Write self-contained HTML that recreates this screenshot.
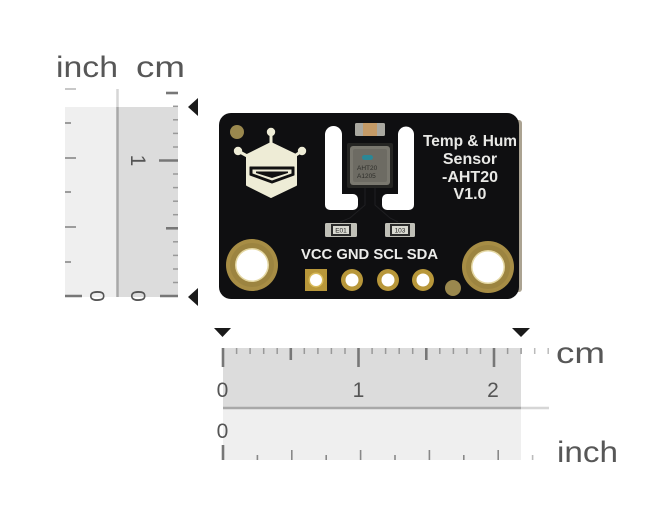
<!DOCTYPE html>
<html><head><meta charset="utf-8">
<style>
html,body{margin:0;padding:0;background:#fff;}
svg{display:block;}
text{font-family:"Liberation Sans",sans-serif;}
</style></head>
<body>
<svg width="653" height="511" viewBox="0 0 653 511" xmlns="http://www.w3.org/2000/svg">
<rect width="653" height="511" fill="#fff"/>

<!-- ===== Left vertical ruler ===== -->
<text x="56" y="77" font-size="30" fill="#575757" textLength="62" lengthAdjust="spacingAndGlyphs">inch</text>
<text x="136" y="77" font-size="30" fill="#575757" textLength="49" lengthAdjust="spacingAndGlyphs">cm</text>
<rect x="65" y="107" width="52" height="190" fill="#efefef"/>
<rect x="118" y="107" width="60" height="190" fill="#dcdcdc"/>
<line x1="117.5" y1="89" x2="117.5" y2="107" stroke="#d6d6d6" stroke-width="2.5"/>
<line x1="117.5" y1="107" x2="117.5" y2="297" stroke="#a8a8a8" stroke-width="2.5"/>
<g stroke="#888" stroke-width="1.6">
<line x1="65" y1="262" x2="71" y2="262"/>
<line x1="65" y1="227" x2="76" y2="227"/>
<line x1="65" y1="192" x2="71" y2="192"/>
<line x1="65" y1="158" x2="76" y2="158"/>
<line x1="65" y1="123" x2="71" y2="123"/>
<line x1="65" y1="89" x2="76" y2="89" stroke="#bbb"/>
</g>
<line x1="65" y1="296" x2="82" y2="296" stroke="#777" stroke-width="2.6"/>
<g stroke="#999" stroke-width="1.5">
<line x1="173" y1="282.5" x2="178" y2="282.5"/>
<line x1="173" y1="269" x2="178" y2="269"/>
<line x1="173" y1="255.4" x2="178" y2="255.4"/>
<line x1="173" y1="241.8" x2="178" y2="241.8"/>
<line x1="173" y1="214.7" x2="178" y2="214.7"/>
<line x1="173" y1="201.2" x2="178" y2="201.2"/>
<line x1="173" y1="187.6" x2="178" y2="187.6"/>
<line x1="173" y1="174" x2="178" y2="174"/>
<line x1="173" y1="147" x2="178" y2="147"/>
<line x1="173" y1="133.4" x2="178" y2="133.4"/>
<line x1="173" y1="119.8" x2="178" y2="119.8"/>
<line x1="173" y1="106.3" x2="178" y2="106.3"/>
</g>
<g stroke="#777" stroke-width="2.6">
<line x1="160" y1="296" x2="178" y2="296"/>
<line x1="166" y1="228.3" x2="178" y2="228.3"/>
<line x1="159" y1="160.5" x2="178" y2="160.5"/>
<line x1="166" y1="93" x2="178" y2="93"/>
</g>
<text transform="translate(97,296) rotate(90)" text-anchor="middle" dy="7" font-size="21" fill="#555">0</text>
<text transform="translate(138,296) rotate(90)" text-anchor="middle" dy="7" font-size="21" fill="#555">0</text>
<text transform="translate(138,160.5) rotate(90)" text-anchor="middle" dy="7" font-size="21" fill="#555">1</text>
<polygon points="188,107 198,98 198,116" fill="#1a1a1a"/>
<polygon points="188,297 198,288 198,306" fill="#1a1a1a"/>

<!-- ===== Bottom horizontal ruler ===== -->
<polygon points="214,328 231,328 222.5,337" fill="#1a1a1a"/>
<polygon points="512,328 530,328 521,337" fill="#1a1a1a"/>
<rect x="223" y="348" width="298" height="60" fill="#dcdcdc"/>
<rect x="223" y="408" width="298" height="52" fill="#efefef"/>
<line x1="223" y1="408" x2="521" y2="408" stroke="#a8a8a8" stroke-width="2.5"/>
<line x1="521" y1="408" x2="549" y2="408" stroke="#d6d6d6" stroke-width="2.5"/>
<g stroke="#999" stroke-width="1.5">
<line x1="236.6" y1="348" x2="236.6" y2="354"/>
<line x1="250.1" y1="348" x2="250.1" y2="354"/>
<line x1="263.7" y1="348" x2="263.7" y2="354"/>
<line x1="277.2" y1="348" x2="277.2" y2="354"/>
<line x1="304.3" y1="348" x2="304.3" y2="354"/>
<line x1="317.9" y1="348" x2="317.9" y2="354"/>
<line x1="331.4" y1="348" x2="331.4" y2="354"/>
<line x1="345" y1="348" x2="345" y2="354"/>
<line x1="372.1" y1="348" x2="372.1" y2="354"/>
<line x1="385.6" y1="348" x2="385.6" y2="354"/>
<line x1="399.2" y1="348" x2="399.2" y2="354"/>
<line x1="412.7" y1="348" x2="412.7" y2="354"/>
<line x1="439.8" y1="348" x2="439.8" y2="354"/>
<line x1="453.4" y1="348" x2="453.4" y2="354"/>
<line x1="466.9" y1="348" x2="466.9" y2="354"/>
<line x1="480.5" y1="348" x2="480.5" y2="354"/>
<line x1="507.6" y1="348" x2="507.6" y2="354"/>
<line x1="521.1" y1="348" x2="521.1" y2="354"/>
<line x1="534.7" y1="348" x2="534.7" y2="354" stroke="#bbb"/>
<line x1="548.2" y1="348" x2="548.2" y2="354" stroke="#bbb"/>
</g>
<g stroke="#777" stroke-width="2.6">
<line x1="223" y1="348" x2="223" y2="367"/>
<line x1="290.8" y1="348" x2="290.8" y2="360"/>
<line x1="358.5" y1="348" x2="358.5" y2="367"/>
<line x1="426.3" y1="348" x2="426.3" y2="360"/>
<line x1="494" y1="348" x2="494" y2="367"/>
</g>
<text x="222.5" y="397" text-anchor="middle" font-size="21" fill="#555">0</text>
<text x="358.5" y="397" text-anchor="middle" font-size="21" fill="#555">1</text>
<text x="493" y="397" text-anchor="middle" font-size="21" fill="#555">2</text>
<text x="222.5" y="438" text-anchor="middle" font-size="21" fill="#555">0</text>
<g stroke="#888" stroke-width="1.6">
<line x1="257.4" y1="455" x2="257.4" y2="460"/>
<line x1="291.8" y1="450" x2="291.8" y2="460"/>
<line x1="326.2" y1="455" x2="326.2" y2="460"/>
<line x1="360.6" y1="450" x2="360.6" y2="460"/>
<line x1="395" y1="455" x2="395" y2="460"/>
<line x1="429.4" y1="450" x2="429.4" y2="460"/>
<line x1="463.8" y1="455" x2="463.8" y2="460"/>
<line x1="498.2" y1="450" x2="498.2" y2="460"/>
<line x1="532.6" y1="455" x2="532.6" y2="460" stroke="#bbb"/>
</g>
<line x1="223" y1="445" x2="223" y2="460" stroke="#777" stroke-width="2.6"/>
<text x="556" y="363" font-size="30" fill="#575757" textLength="49" lengthAdjust="spacingAndGlyphs">cm</text>
<text x="557" y="462" font-size="30" fill="#575757" textLength="61" lengthAdjust="spacingAndGlyphs">inch</text>

<!-- ===== PCB ===== -->
<rect x="514" y="120" width="8" height="172" rx="3" fill="#aba392"/>
<rect x="219" y="113" width="300" height="186" rx="12" fill="#0f0f11"/>

<circle cx="237" cy="132" r="7" fill="#9a884e"/>

<!-- logo -->
<g fill="#eeecd6">
<polygon points="271,143 296,155 296,185 271,197 247,185 247,155" stroke="#eeecd6" stroke-width="2" stroke-linejoin="round"/>
<rect x="269.5" y="133" width="3" height="12"/>
<circle cx="271" cy="132" r="4.2"/>
<line x1="238" y1="151" x2="249" y2="157" stroke="#eeecd6" stroke-width="3"/>
<circle cx="238" cy="151" r="4.2"/>
<line x1="302" y1="151" x2="293" y2="157" stroke="#eeecd6" stroke-width="3"/>
<circle cx="302" cy="151" r="4.2"/>
</g>
<polygon points="250,167 294,167 294,175 272,183 250,175" fill="#111" stroke="#111" stroke-width="1" stroke-linejoin="round"/>
<polygon points="252.5,169.5 291.5,169.5 291.5,173.5 272,180.5 252.5,173.5" fill="#eeecd6"/>
<polygon points="256,171.5 288,171.5 288,173 272,178 256,173" fill="#111"/>

<!-- slots -->
<path d="M325,134.5 A8.5,8.5 0 0 1 342,134.5 L342,194 L353,194 A5,5 0 0 1 358,199 L358,205 A5,5 0 0 1 353,210 L330,210 A5,5 0 0 1 325,205 Z" fill="#fff"/>
<path d="M398,134.5 A8,8 0 0 1 414,134.5 L414,205 A5,5 0 0 1 409,210 L387,210 A5,5 0 0 1 382,205 L382,199 A5,5 0 0 1 387,194 L398,194 Z" fill="#fff"/>

<!-- traces -->
<g stroke="#1f1f22" stroke-width="1" fill="none">
<path d="M365,188 L365,205 L350,218 L340,222"/>
<path d="M375,188 L375,205 L390,218 L398,222"/>
</g>

<!-- top capacitor -->
<rect x="355" y="123" width="30" height="13" rx="1.5" fill="#a9a8a0"/>
<rect x="363" y="123" width="14" height="13" fill="#c49a66"/>

<!-- sensor chip -->
<rect x="347" y="143" width="46" height="45" rx="2" fill="#252523"/>
<rect x="350" y="146" width="40" height="39" rx="3" fill="#7a786f"/>
<rect x="353" y="149" width="34" height="33" rx="2" fill="#6d6b63"/>
<rect x="362" y="155" width="11" height="5" rx="2.5" fill="#2b8796"/>
<text x="357" y="170" font-size="6.5" fill="#2e2e2a">AHT20</text>
<text x="357" y="178" font-size="6.5" fill="#2e2e2a">A1205</text>

<!-- resistors -->
<rect x="325" y="223" width="32" height="14" rx="1.5" fill="#bfbfb7"/>
<rect x="331" y="224" width="20" height="12" fill="#2a2a2a"/>
<rect x="333" y="226" width="16" height="8" fill="#d9d9d1"/>
<text x="341" y="232.5" text-anchor="middle" font-size="6.5" fill="#222">E01</text>
<rect x="385" y="223" width="30" height="14" rx="1.5" fill="#bfbfb7"/>
<rect x="390" y="224" width="20" height="12" fill="#2a2a2a"/>
<rect x="392" y="226" width="16" height="8" fill="#d9d9d1"/>
<text x="400" y="232.5" text-anchor="middle" font-size="6.5" fill="#222">103</text>

<!-- board text -->
<g font-weight="bold" fill="#e9e9e6" text-anchor="middle" font-size="16">
<text x="470" y="146" textLength="94" lengthAdjust="spacingAndGlyphs">Temp &amp; Hum</text>
<text x="470" y="164">Sensor</text>
<text x="470" y="182">-AHT20</text>
<text x="470" y="199">V1.0</text>
</g>
<text x="301" y="259" font-weight="bold" font-size="15" fill="#ececea" textLength="137" lengthAdjust="spacingAndGlyphs">VCC GND SCL SDA</text>

<!-- pads -->
<rect x="305" y="269" width="22" height="22" fill="#b8973a"/>
<circle cx="316" cy="280" r="7.5" fill="#d8bb5c"/>
<circle cx="316" cy="280" r="6" fill="#fff"/>
<circle cx="352" cy="280" r="11" fill="#b8973a"/>
<circle cx="352" cy="280" r="6.5" fill="#fff"/>
<circle cx="388" cy="280" r="11" fill="#b8973a"/>
<circle cx="388" cy="280" r="6.5" fill="#fff"/>
<circle cx="423" cy="280" r="11" fill="#b8973a"/>
<circle cx="423" cy="280" r="6.5" fill="#fff"/>

<!-- mounting holes -->
<circle cx="252" cy="265" r="26" fill="#a78d45"/>
<circle cx="252" cy="265" r="22" fill="#9c8440"/>
<circle cx="252" cy="265" r="17" fill="#e4d7a2"/>
<circle cx="252" cy="265" r="15.5" fill="#fff"/>
<circle cx="488" cy="267" r="26" fill="#a78d45"/>
<circle cx="488" cy="267" r="22" fill="#9c8440"/>
<circle cx="488" cy="267" r="17" fill="#e4d7a2"/>
<circle cx="488" cy="267" r="15.5" fill="#fff"/>

<circle cx="453" cy="288" r="8" fill="#9a884e"/>
</svg>
</body></html>
